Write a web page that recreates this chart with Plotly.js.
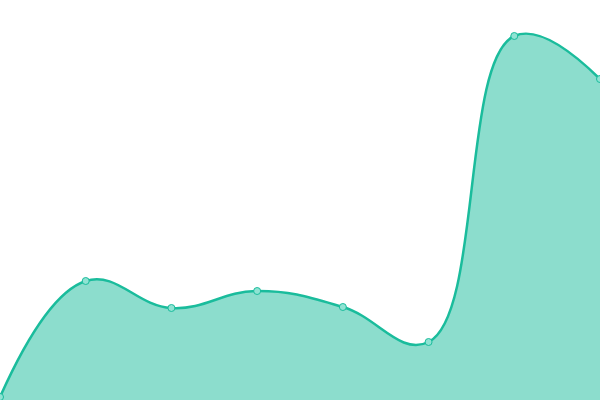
<!DOCTYPE html>
<html>
<head>
<meta charset="utf-8">
<script src="https://cdn.plot.ly/plotly-3.0.1.min.js"></script>
<style>html,body{margin:0;padding:0;background:#fff}#chart{width:600px;height:400px}</style>
</head>
<body>
<div id="chart"></div>
<script>
const categories = [0, 1, 2, 3, 4, 5, 6, 7];
const values = [3, 119, 92, 109, 93, 58, 364, 321];

const trace = {
  x: categories,
  y: values,
  type: 'scatter',
  mode: 'lines+markers',
  fill: 'tozeroy',
  fillcolor: 'rgba(26,188,156,0.5)',
  line: {shape: 'spline', smoothing: 1.2, color: '#1abc9c', width: 2.5},
  marker: {size: 7, color: '#8fe3d3', line: {color: '#1abc9c', width: 1}},
  cliponaxis: true,
  hoverinfo: 'none'
};

Plotly.newPlot('chart', [trace], {
  width: 600, height: 400,
  margin: {l: 0, r: 0, t: 0, b: 0},
  paper_bgcolor: '#fff', plot_bgcolor: '#fff',
  showlegend: false,
  xaxis: {range: [0, 7], visible: false, fixedrange: true},
  yaxis: {range: [0, 400], visible: false, fixedrange: true}
}, {displayModeBar: false, staticPlot: true});
</script>
</body>
</html>
